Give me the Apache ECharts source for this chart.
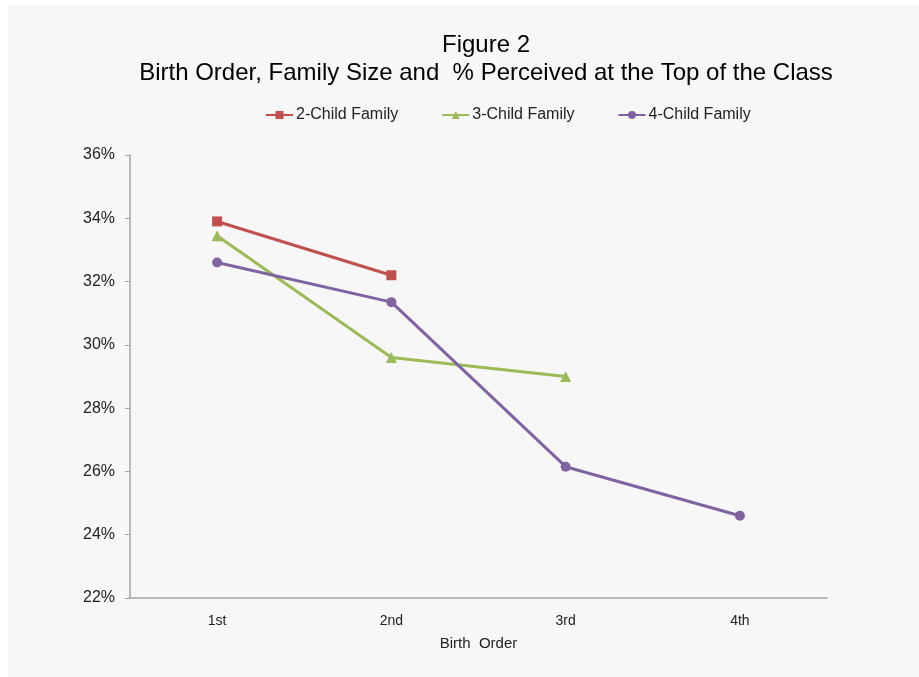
<!DOCTYPE html>
<html>
<head>
<meta charset="utf-8">
<style>
  html, body { margin: 0; padding: 0; background: #fff; }
  #chart { width: 919px; height: 677px; }
</style>
<script src="https://cdn.jsdelivr.net/npm/echarts@6/dist/echarts.min.js"></script>
</head>
<body>
<div id="chart"></div>
<script>
// data
const birthOrder = ["1st", "2nd", "3rd", "4th"];
const twoChild = [33.9, 32.2, null, null];
const threeChild = [33.45, 29.6, 29.0, null];
const fourChild = [32.6, 31.35, 26.15, 24.6];
const yTicks = { min: 22, max: 36, step: 2 };

const chart = echarts.init(document.getElementById("chart"));
const font = "Liberation Sans, Arial, sans-serif";

chart.setOption({
  backgroundColor: "#fff",
  animation: false,
  graphic: [
    {
      type: "rect",
      shape: { x: 8, y: 5, width: 911, height: 672 },
      style: { fill: "#f7f7f7" },
      z: -1,
    },
  ],
  title: {
    text: "Figure 2\nBirth Order, Family Size and  % Perceived at the Top of the Class",
    left: 481,
    top: 26,
    textAlign: "center",
    textStyle: {
      fontFamily: font,
      fontSize: 24,
      fontWeight: "normal",
      color: "#000",
      lineHeight: 28,
    },
  },
  legend: {
    top: 102,
    left: 260,
    itemGap: 43,
    itemWidth: 27,
    itemHeight: 10,
    textStyle: { fontFamily: font, fontSize: 16, color: "#222", padding: [0, 0, 0, -2] },
    data: ["2-Child Family", "3-Child Family", "4-Child Family"],
  },
  grid: { left: 130, right: 92, top: 155, bottom: 79 },
  xAxis: {
    type: "category",
    data: birthOrder,
    name: "Birth  Order",
    nameLocation: "middle",
    nameGap: 38,
    nameTextStyle: { fontFamily: font, fontSize: 15, color: "#222" },
    axisLine: { lineStyle: { color: "#a6a6a6", width: 1.5 } },
    axisTick: { show: false },
    axisLabel: { fontFamily: font, fontSize: 14, color: "#222", margin: 16 },
  },
  yAxis: {
    type: "value",
    min: yTicks.min,
    max: yTicks.max,
    interval: yTicks.step,
    axisLine: { show: true, lineStyle: { color: "#a6a6a6", width: 1.5 } },
    axisTick: { show: true, length: 5, lineStyle: { color: "#a6a6a6" } },
    splitLine: { show: false },
    axisLabel: {
      fontFamily: font,
      fontSize: 16,
      color: "#222",
      margin: 15,
      formatter: "{value}%",
    },
  },
  series: [
    {
      name: "2-Child Family",
      type: "line",
      data: twoChild,
      symbol: "rect",
      symbolSize: 10,
      color: "#c0504d",
      lineStyle: { width: 3 },
    },
    {
      name: "3-Child Family",
      type: "line",
      data: threeChild,
      symbol: "triangle",
      symbolSize: 11,
      color: "#9bbb59",
      lineStyle: { width: 3 },
    },
    {
      name: "4-Child Family",
      type: "line",
      data: fourChild,
      symbol: "circle",
      symbolSize: 10,
      color: "#8064a2",
      lineStyle: { width: 3 },
    },
  ],
});
</script>
</body>
</html>
